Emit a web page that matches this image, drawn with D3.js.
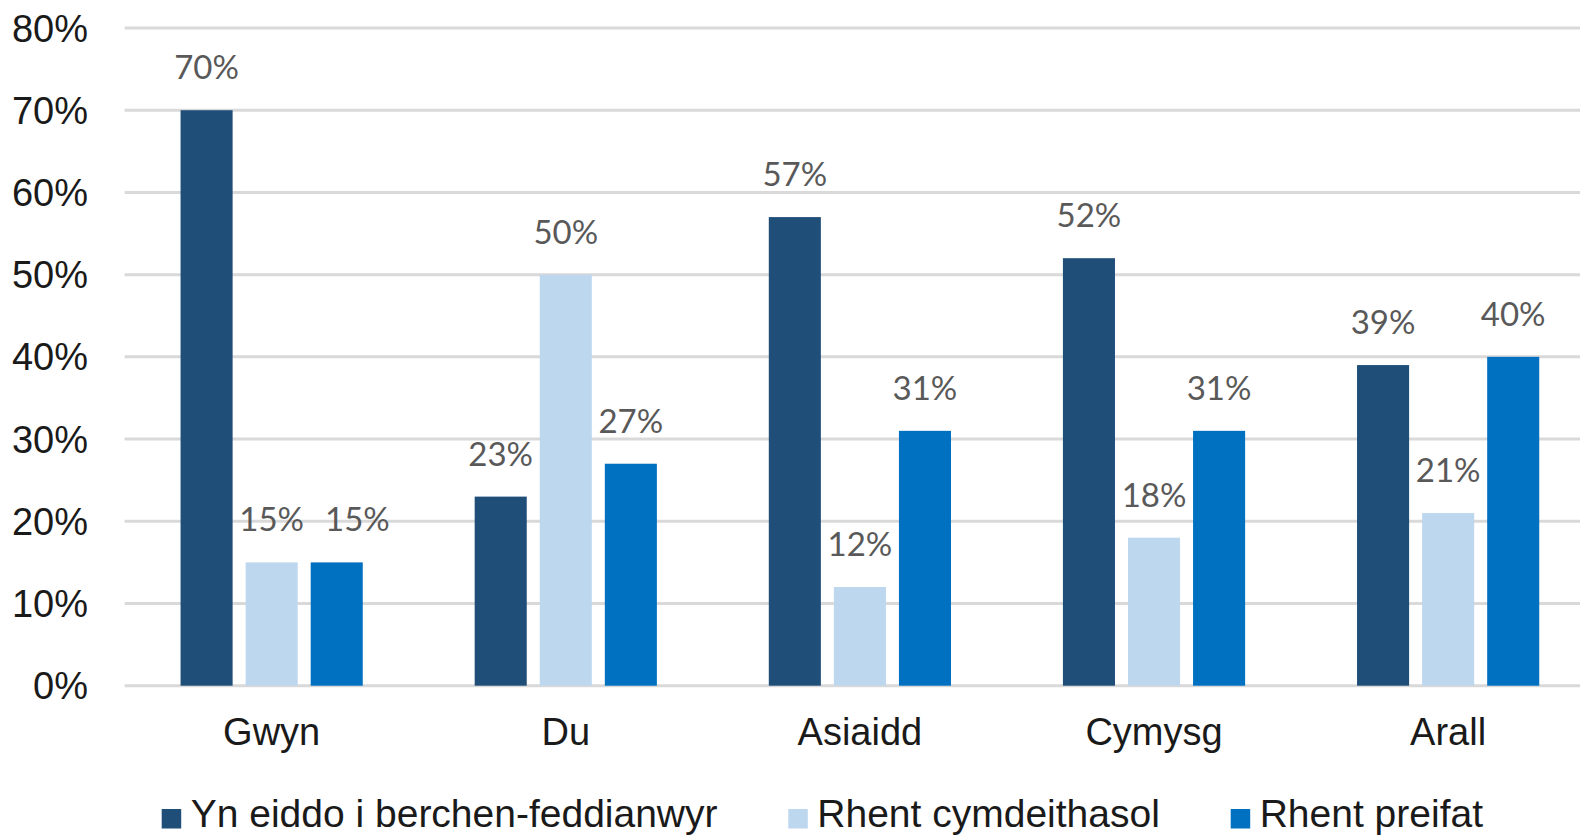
<!DOCTYPE html>
<html>
<head>
<meta charset="utf-8">
<script src="https://cdn.jsdelivr.net/npm/d3@7"></script>
<style>
  body { margin: 0; background: #fff; }
  svg { display: block; }
  .tick-label { font-family: "Liberation Sans", Arial, sans-serif; font-size: 38px; fill: #1a1a1a; }
  .value-label { font-family: Lato, "Open Sans", sans-serif; font-size: 33px; fill: #595959; }
  .legend-label { font-family: "Liberation Sans", Arial, sans-serif; font-size: 39px; fill: #1a1a1a; }
</style>
</head>
<body>
<svg width="1580" height="835"></svg>
<script>
// Data
const categories = ["Gwyn", "Du", "Asiaidd", "Cymysg", "Arall"];
const seriesNames = ["Yn eiddo i berchen-feddianwyr", "Rhent cymdeithasol", "Rhent preifat"];
const ownerOccupied = [70, 23, 57, 52, 39];
const socialRent = [15, 50, 12, 18, 21];
const privateRent = [15, 27, 31, 31, 40];
const yTicks = [0, 10, 20, 30, 40, 50, 60, 70, 80];
const colors = ["#1F4E79", "#BDD7EE", "#0070C0"];

const seriesValues = [ownerOccupied, socialRent, privateRent];

const svg = d3.select("svg");
const width = +svg.attr("width");

// plot area (the chart is cropped on the right side)
const plotLeft = 124.6;
const plotRight = 1595.2;
const plotTop = 28;
const plotBottom = 685.7;

// legend item left edges
const legendX = [161.7, 788.3, 1230.7];

const x0 = d3.scaleBand()
  .domain(categories)
  .range([plotLeft, plotRight])
  .padding(0);

const x1 = d3.scaleBand()
  .domain(seriesNames)
  .range([0, x0.bandwidth()])
  .paddingInner(0.2)
  .paddingOuter(0.86);

const y = d3.scaleLinear()
  .domain([0, 80])
  .range([plotBottom, plotTop]);

const color = d3.scaleOrdinal().domain(seriesNames).range(colors);

// gridlines
svg.append("g")
  .selectAll("line")
  .data(yTicks)
  .join("line")
  .attr("x1", plotLeft)
  .attr("x2", width)
  .attr("y1", d => y(d))
  .attr("y2", d => y(d))
  .attr("stroke", "#D9D9D9")
  .attr("stroke-width", 3);

// y axis labels
svg.append("g")
  .selectAll("text")
  .data(yTicks)
  .join("text")
  .attr("class", "tick-label")
  .attr("x", 88)
  .attr("y", d => y(d) + 13.5)
  .attr("text-anchor", "end")
  .text(d => d + "%");

// table of bars
const rows = [];
categories.forEach((c, i) => {
  seriesNames.forEach((s, j) => {
    rows.push({ category: c, series: s, value: seriesValues[j][i] });
  });
});

svg.append("g")
  .selectAll("rect")
  .data(rows)
  .join("rect")
  .attr("x", d => x0(d.category) + x1(d.series))
  .attr("y", d => y(d.value))
  .attr("width", x1.bandwidth())
  .attr("height", d => y(0) - y(d.value))
  .attr("fill", d => color(d.series));

// value labels
const labels = svg.append("g")
  .selectAll("text")
  .data(rows)
  .join("text")
  .attr("class", "value-label")
  .attr("x", d => x0(d.category) + x1(d.series) + x1.bandwidth() / 2)
  .attr("y", d => y(d.value) - 31)
  .attr("text-anchor", "middle")
  .text(d => d.value + "%");

// push a label right when it collides with its neighbour at the same height
let prev = null;
labels.each(function (d) {
  const el = d3.select(this);
  const w = this.getComputedTextLength();
  let cx = +el.attr("x");
  const ly = +el.attr("y");
  if (prev && prev.category === d.category && Math.abs(prev.y - ly) < 30) {
    const minLeft = prev.right + 21;
    if (cx - w / 2 < minLeft) {
      cx = minLeft + w / 2;
      el.attr("x", cx);
    }
  }
  prev = { category: d.category, y: ly, right: cx + w / 2 };
});

// category labels
svg.append("g")
  .selectAll("text")
  .data(categories)
  .join("text")
  .attr("class", "tick-label")
  .attr("x", d => x0(d) + x0.bandwidth() / 2)
  .attr("y", 745)
  .attr("text-anchor", "middle")
  .text(d => d);

// legend
const legend = svg.append("g")
  .selectAll("g")
  .data(seriesNames)
  .join("g")
  .attr("transform", (d, i) => `translate(${legendX[i]},0)`);

legend.append("rect")
  .attr("y", 809)
  .attr("width", 19.5)
  .attr("height", 19.5)
  .attr("fill", d => color(d));

legend.append("text")
  .attr("class", "legend-label")
  .attr("x", 29)
  .attr("y", 827)
  .text(d => d);
</script>
</body>
</html>
